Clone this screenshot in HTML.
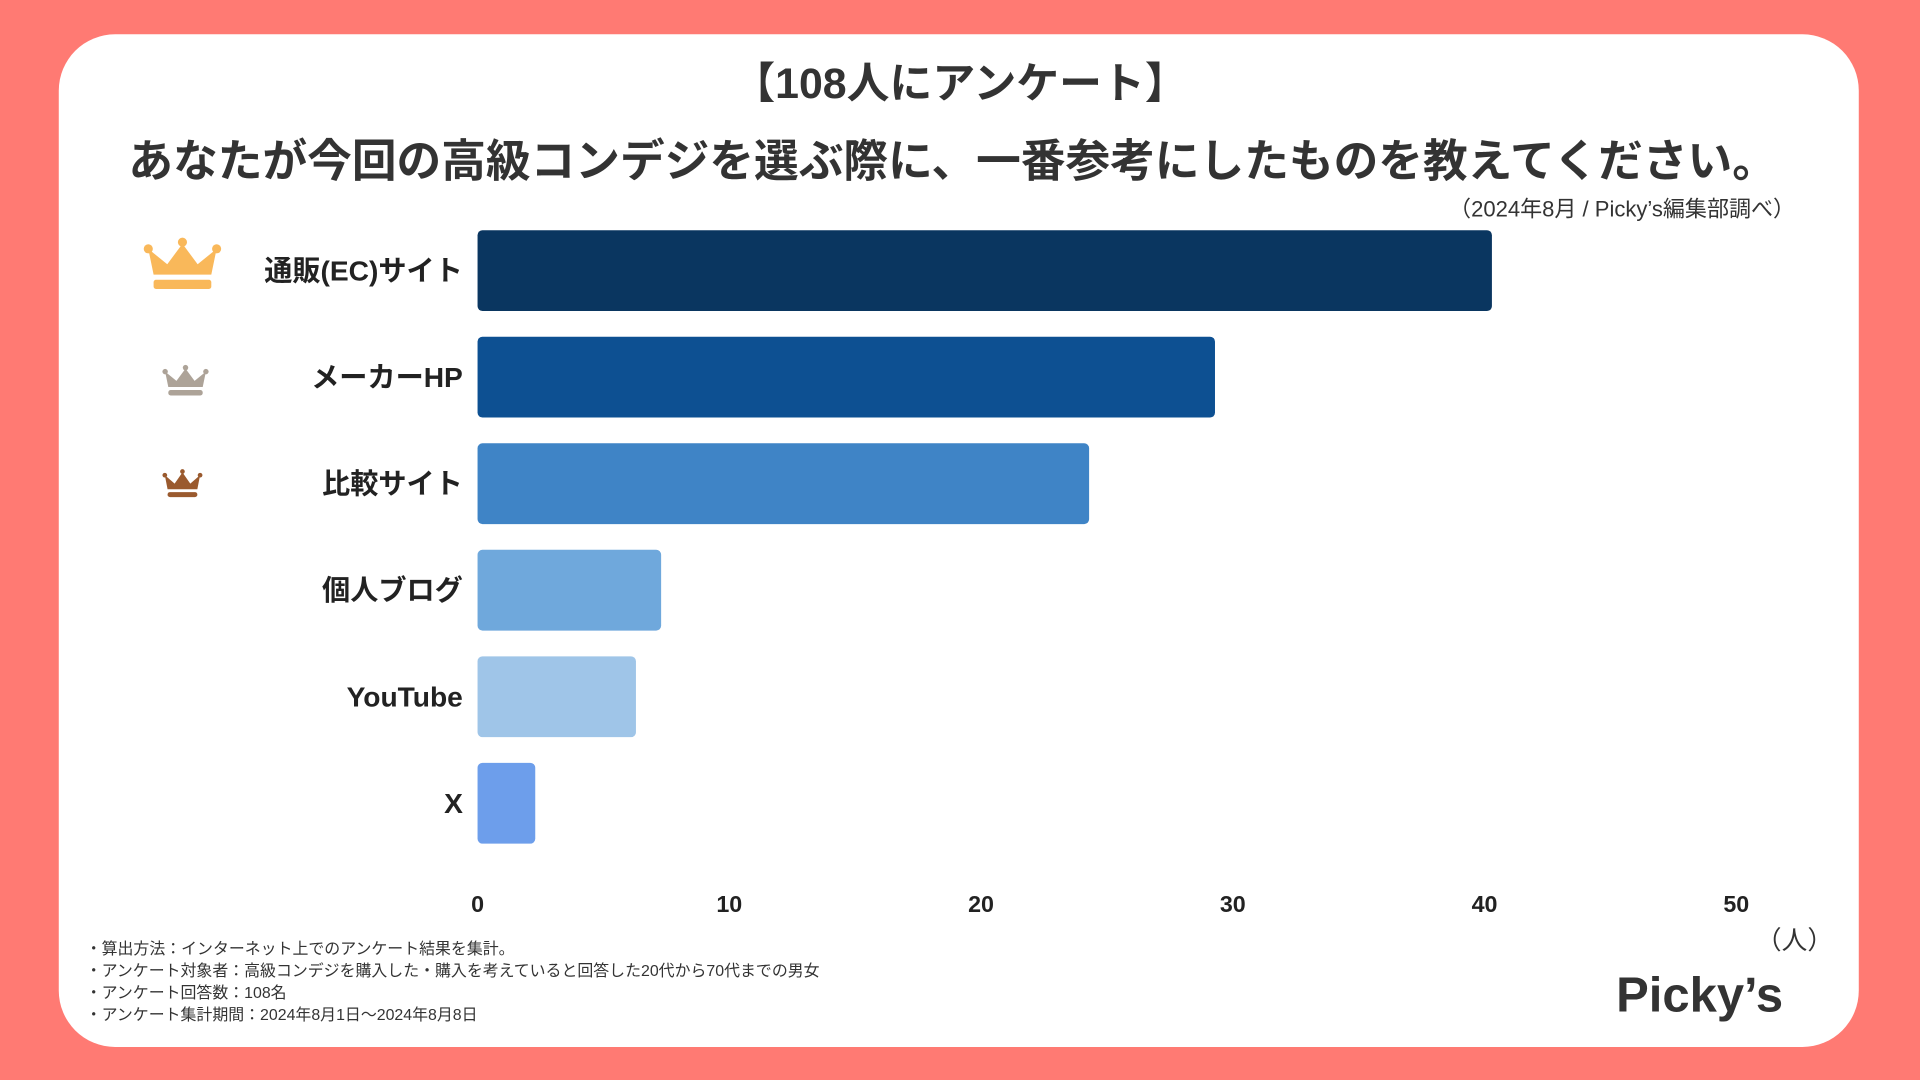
<!DOCTYPE html>
<html><head><meta charset="utf-8"><style>
html,body{margin:0;padding:0;background:#FF7A73;}
svg{display:block;font-family:"Liberation Sans","Noto Sans CJK JP",sans-serif;}
</style></head><body>
<svg id="chart" width="1920" height="1080" viewBox="0 0 1568 882">
<rect x="0" y="0" width="1568" height="882" fill="#FF7A73"/>
<rect x="48" y="28" width="1470" height="827" rx="46" fill="#fff"/>
<text x="784" y="80" text-anchor="middle" font-size="35" font-weight="bold" fill="#333">【108人にアンケート】</text>
<text x="778" y="144" text-anchor="middle" font-size="36.5" font-weight="bold" fill="#333">あなたが今回の高級コンデジを選ぶ際に、一番参考にしたものを教えてください。</text>
<text x="1466" y="177" text-anchor="end" font-size="18" fill="#333">（2024年8月 / Picky’s編集部調べ）</text>
<g id="bars"></g>
<g id="ticks"></g>
<g id="crowns"></g>
<text x="1497" y="775" text-anchor="end" font-size="21" fill="#333">（人）</text>
<g font-size="13" fill="#333">
<text x="70" y="779">・算出方法：インターネット上でのアンケート結果を集計。</text>
<text x="70" y="797">・アンケート対象者：高級コンデジを購入した・購入を考えていると回答した20代から70代までの男女</text>
<text x="70" y="815">・アンケート回答数：108名</text>
<text x="70" y="833">・アンケート集計期間：2024年8月1日〜2024年8月8日</text>
</g>
<text x="1388" y="826" text-anchor="middle" font-size="40" font-weight="bold" fill="#333">Picky’s</text>
</svg>
<script>
const categories=["通販(EC)サイト","メーカーHP","比較サイト","個人ブログ","YouTube","X"];
const values=[40,29,24,7,6,2];
const colors=["#0A3660","#0D5092","#3F84C6","#6FA8DC","#9FC5E8","#6D9EEB"];
const tickValues=[0,10,20,30,40,50];
const NS="http://www.w3.org/2000/svg";
const x0=390,x1=1418,xMax=50;
function xs(v){return x0+(x1-x0)*v/xMax;}
function ys(i){return 188+i*87;}
const bh=66;
const bars=document.getElementById('bars');
categories.forEach((c,i)=>{
  const r=document.createElementNS(NS,'rect');
  r.setAttribute('x',x0);r.setAttribute('y',ys(i));
  r.setAttribute('width',xs(values[i])-x0+6);r.setAttribute('height',bh);
  r.setAttribute('rx',4);r.setAttribute('fill',colors[i]);
  
  
  bars.appendChild(r);
  const t=document.createElementNS(NS,'text');
  t.setAttribute('x',378);t.setAttribute('y',ys(i)+bh/2+8);
  t.setAttribute('text-anchor','end');t.setAttribute('font-size','23');
  t.setAttribute('font-weight','bold');t.setAttribute('fill','#222');
  t.textContent=c;
  
  
  bars.appendChild(t);
});
const ticks=document.getElementById('ticks');
tickValues.forEach(v=>{
  const t=document.createElementNS(NS,'text');
  t.setAttribute('x',xs(v));t.setAttribute('y',745);
  t.setAttribute('text-anchor','middle');t.setAttribute('font-size','19');
  t.setAttribute('font-weight','bold');t.setAttribute('fill','#222');
  t.textContent=v;
  
  
  ticks.appendChild(t);
});
const crowns=document.getElementById('crowns');
function crown(x,y,w,h,col,name){
  const g=document.createElementNS(NS,'g');
  
  
  const P=(a,b)=>(x+a*w)+','+(y+b*h);
  const p=document.createElementNS(NS,'polygon');
  p.setAttribute('points',[P(.05,.22),P(.3,.52),P(.5,.12),P(.7,.52),P(.95,.22),P(.88,.72),P(.12,.72)].join(' '));
  p.setAttribute('fill',col);g.appendChild(p);
  [[.05,.22],[.5,.09],[.95,.22]].forEach(([a,b])=>{
    const c=document.createElementNS(NS,'circle');
    c.setAttribute('cx',x+a*w);c.setAttribute('cy',y+b*h);c.setAttribute('r',w*.06);
    c.setAttribute('fill',col);g.appendChild(c);
  });
  const r=document.createElementNS(NS,'rect');
  r.setAttribute('x',x+.12*w);r.setAttribute('y',y+.82*h);r.setAttribute('width',.76*w);
  r.setAttribute('height',.18*h);r.setAttribute('rx',2);r.setAttribute('fill',col);
  g.appendChild(r);crowns.appendChild(g);
}
crown(118,194,62,42,"#F9B85A","crown-gold");
crown(133,298,37,25,"#ADA398","crown-silver");
crown(133,383,32,23,"#9A5A2E","crown-bronze");
</script>
</body></html>
